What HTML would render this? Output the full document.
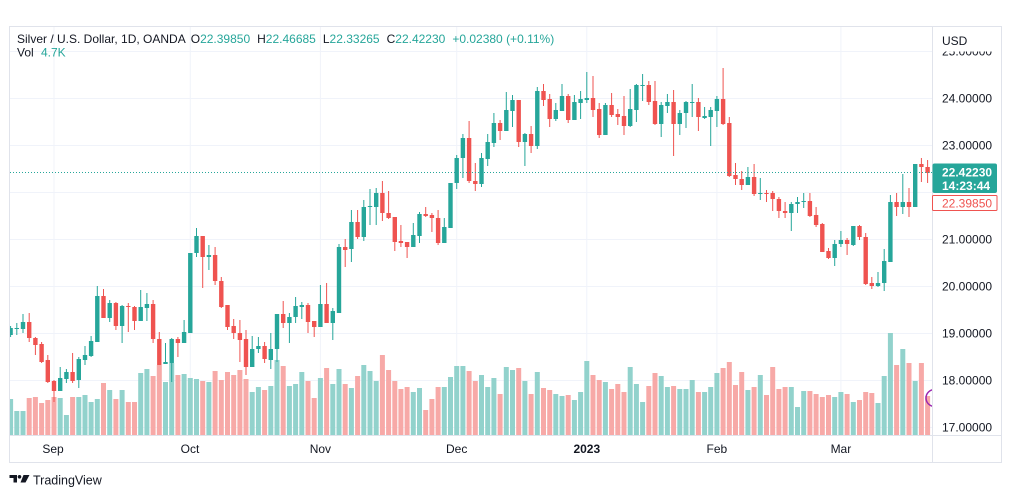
<!DOCTYPE html>
<html><head><meta charset="utf-8"><style>
html,body{margin:0;padding:0;background:#fff;}
body{width:1012px;height:498px;overflow:hidden;}
svg{display:block;font-family:"Liberation Sans",sans-serif;}
</style></head><body>
<svg width="1012" height="498" viewBox="0 0 1012 498" xmlns="http://www.w3.org/2000/svg">
<defs><clipPath id="pc"><rect x="10" y="27" width="922" height="408"/></clipPath></defs>
<rect x="0" y="0" width="1012" height="498" fill="#fff"/>
<g clip-path="url(#pc)">
<g stroke="#f0f3fa" stroke-width="1">
<line x1="10" y1="51.5" x2="932" y2="51.5"/><line x1="10" y1="98.5" x2="932" y2="98.5"/><line x1="10" y1="145.5" x2="932" y2="145.5"/><line x1="10" y1="192.5" x2="932" y2="192.5"/><line x1="10" y1="239.5" x2="932" y2="239.5"/><line x1="10" y1="286.5" x2="932" y2="286.5"/><line x1="10" y1="333.5" x2="932" y2="333.5"/><line x1="10" y1="380.5" x2="932" y2="380.5"/><line x1="10" y1="427.5" x2="932" y2="427.5"/>
<line x1="54" y1="27" x2="54" y2="435"/><line x1="190.3" y1="27" x2="190.3" y2="435"/><line x1="320.4" y1="27" x2="320.4" y2="435"/><line x1="456.7" y1="27" x2="456.7" y2="435"/><line x1="586.8" y1="27" x2="586.8" y2="435"/><line x1="716.9" y1="27" x2="716.9" y2="435"/><line x1="840.9" y1="27" x2="840.9" y2="435"/>
</g>
<g fill="#92d2cc">
<rect x="8.1" y="399" width="5" height="36"/><rect x="14.3" y="411" width="5" height="24"/><rect x="20.5" y="411" width="5" height="24"/><rect x="57.7" y="398" width="5" height="37"/><rect x="63.9" y="415" width="5" height="20"/><rect x="76.3" y="397" width="5" height="38"/><rect x="82.5" y="395" width="5" height="40"/><rect x="88.6" y="402" width="5" height="33"/><rect x="94.8" y="399" width="5" height="36"/><rect x="107.2" y="390" width="5" height="45"/><rect x="119.6" y="390" width="5" height="45"/><rect x="138.2" y="373" width="5" height="62"/><rect x="144.4" y="369" width="5" height="66"/><rect x="163" y="382" width="5" height="53"/><rect x="169.2" y="363" width="5" height="72"/><rect x="181.6" y="374" width="5" height="61"/><rect x="187.8" y="378" width="5" height="57"/><rect x="194" y="379" width="5" height="56"/><rect x="206.4" y="382" width="5" height="53"/><rect x="249.7" y="392" width="5" height="43"/><rect x="255.9" y="387" width="5" height="48"/><rect x="268.3" y="386" width="5" height="49"/><rect x="274.5" y="360" width="5" height="75"/><rect x="286.9" y="386" width="5" height="49"/><rect x="293.1" y="384" width="5" height="51"/><rect x="299.3" y="372" width="5" height="63"/><rect x="317.9" y="378" width="5" height="57"/><rect x="330.3" y="384" width="5" height="51"/><rect x="336.5" y="369" width="5" height="66"/><rect x="348.9" y="388" width="5" height="47"/><rect x="361.3" y="365" width="5" height="70"/><rect x="367.5" y="371" width="5" height="64"/><rect x="373.7" y="381" width="5" height="54"/><rect x="410.8" y="392" width="5" height="43"/><rect x="417" y="388" width="5" height="47"/><rect x="441.8" y="387" width="5" height="48"/><rect x="448" y="377" width="5" height="58"/><rect x="454.2" y="366" width="5" height="69"/><rect x="460.4" y="366" width="5" height="69"/><rect x="479" y="375" width="5" height="60"/><rect x="485.2" y="387" width="5" height="48"/><rect x="491.4" y="378" width="5" height="57"/><rect x="503.8" y="367" width="5" height="68"/><rect x="510" y="370" width="5" height="65"/><rect x="522.4" y="381" width="5" height="54"/><rect x="534.8" y="372" width="5" height="63"/><rect x="553.3" y="394" width="5" height="41"/><rect x="559.5" y="396" width="5" height="39"/><rect x="571.9" y="400" width="5" height="35"/><rect x="578.1" y="392" width="5" height="43"/><rect x="584.3" y="361" width="5" height="74"/><rect x="602.9" y="382" width="5" height="53"/><rect x="627.7" y="367" width="5" height="68"/><rect x="633.9" y="384" width="5" height="51"/><rect x="640.1" y="402" width="5" height="33"/><rect x="658.7" y="376" width="5" height="59"/><rect x="664.9" y="387" width="5" height="48"/><rect x="677.3" y="389" width="5" height="46"/><rect x="683.5" y="389" width="5" height="46"/><rect x="689.7" y="380" width="5" height="55"/><rect x="702.1" y="392" width="5" height="43"/><rect x="708.2" y="387" width="5" height="48"/><rect x="714.4" y="373" width="5" height="62"/><rect x="745.4" y="390" width="5" height="45"/><rect x="757.8" y="375" width="5" height="60"/><rect x="788.8" y="387" width="5" height="48"/><rect x="795" y="407" width="5" height="28"/><rect x="801.2" y="391" width="5" height="44"/><rect x="832.2" y="397" width="5" height="38"/><rect x="838.4" y="392" width="5" height="43"/><rect x="850.8" y="402" width="5" height="33"/><rect x="875.5" y="403" width="5" height="32"/><rect x="881.7" y="376" width="5" height="59"/><rect x="887.9" y="333" width="5" height="102"/><rect x="900.3" y="349" width="5" height="86"/><rect x="912.7" y="381" width="5" height="54"/>
</g>
<g fill="#f7a9a7">
<rect x="26.7" y="398" width="5" height="37"/><rect x="32.9" y="397" width="5" height="38"/><rect x="39.1" y="403" width="5" height="32"/><rect x="45.3" y="400" width="5" height="35"/><rect x="51.5" y="397" width="5" height="38"/><rect x="70.1" y="397" width="5" height="38"/><rect x="101" y="383" width="5" height="52"/><rect x="113.4" y="399" width="5" height="36"/><rect x="125.8" y="402" width="5" height="33"/><rect x="132" y="402" width="5" height="33"/><rect x="150.6" y="376" width="5" height="59"/><rect x="156.8" y="365" width="5" height="70"/><rect x="175.4" y="375" width="5" height="60"/><rect x="200.2" y="381" width="5" height="54"/><rect x="212.6" y="371" width="5" height="64"/><rect x="218.8" y="380" width="5" height="55"/><rect x="225" y="372" width="5" height="63"/><rect x="231.2" y="375" width="5" height="60"/><rect x="237.4" y="370" width="5" height="65"/><rect x="243.5" y="379" width="5" height="56"/><rect x="262.1" y="390" width="5" height="45"/><rect x="280.7" y="366" width="5" height="69"/><rect x="305.5" y="381" width="5" height="54"/><rect x="311.7" y="398" width="5" height="37"/><rect x="324.1" y="368" width="5" height="67"/><rect x="342.7" y="384" width="5" height="51"/><rect x="355.1" y="376" width="5" height="59"/><rect x="379.9" y="355" width="5" height="80"/><rect x="386.1" y="370" width="5" height="65"/><rect x="392.3" y="381" width="5" height="54"/><rect x="398.4" y="389" width="5" height="46"/><rect x="404.6" y="387" width="5" height="48"/><rect x="423.2" y="410" width="5" height="25"/><rect x="429.4" y="399" width="5" height="36"/><rect x="435.6" y="387" width="5" height="48"/><rect x="466.6" y="371" width="5" height="64"/><rect x="472.8" y="381" width="5" height="54"/><rect x="497.6" y="394" width="5" height="41"/><rect x="516.2" y="368" width="5" height="67"/><rect x="528.6" y="394" width="5" height="41"/><rect x="541" y="388" width="5" height="47"/><rect x="547.2" y="390" width="5" height="45"/><rect x="565.7" y="395" width="5" height="40"/><rect x="590.5" y="375" width="5" height="60"/><rect x="596.7" y="380" width="5" height="55"/><rect x="609.1" y="389" width="5" height="46"/><rect x="615.3" y="384" width="5" height="51"/><rect x="621.5" y="392" width="5" height="43"/><rect x="646.3" y="386" width="5" height="49"/><rect x="652.5" y="373" width="5" height="62"/><rect x="671.1" y="386" width="5" height="49"/><rect x="695.9" y="392" width="5" height="43"/><rect x="720.6" y="368" width="5" height="67"/><rect x="726.8" y="362" width="5" height="73"/><rect x="733" y="385" width="5" height="50"/><rect x="739.2" y="372" width="5" height="63"/><rect x="751.6" y="387" width="5" height="48"/><rect x="764" y="395" width="5" height="40"/><rect x="770.2" y="367" width="5" height="68"/><rect x="776.4" y="389" width="5" height="46"/><rect x="782.6" y="387" width="5" height="48"/><rect x="807.4" y="391" width="5" height="44"/><rect x="813.6" y="394" width="5" height="41"/><rect x="819.8" y="397" width="5" height="38"/><rect x="826" y="395" width="5" height="40"/><rect x="844.6" y="394" width="5" height="41"/><rect x="857" y="400" width="5" height="35"/><rect x="863.2" y="392" width="5" height="43"/><rect x="869.3" y="393" width="5" height="42"/><rect x="894.1" y="365" width="5" height="70"/><rect x="906.5" y="363" width="5" height="72"/><rect x="918.9" y="363" width="5" height="72"/><rect x="925.1" y="396" width="5" height="39"/>
</g>
<g fill="#26a69a">
<rect x="10.1" y="326" width="1" height="11"/><rect x="8.4" y="328" width="4.4" height="7"/>
<rect x="16.3" y="323" width="1" height="12"/><rect x="14.6" y="328" width="4.4" height="1"/>
<rect x="22.5" y="314" width="1" height="19"/><rect x="20.8" y="322" width="4.4" height="7"/>
<rect x="59.7" y="367" width="1" height="24"/><rect x="58" y="378" width="4.4" height="13"/>
<rect x="65.9" y="369" width="1" height="14"/><rect x="64.2" y="372" width="4.4" height="7"/>
<rect x="78.3" y="357" width="1" height="31"/><rect x="76.6" y="359" width="4.4" height="21"/>
<rect x="84.5" y="346" width="1" height="19"/><rect x="82.8" y="355" width="4.4" height="5"/>
<rect x="90.6" y="336" width="1" height="21"/><rect x="88.9" y="341" width="4.4" height="15"/>
<rect x="96.8" y="286" width="1" height="56"/><rect x="95.1" y="296" width="4.4" height="46"/>
<rect x="109.2" y="300" width="1" height="22"/><rect x="107.5" y="303" width="4.4" height="15"/>
<rect x="121.6" y="305" width="1" height="38"/><rect x="119.9" y="306" width="4.4" height="20"/>
<rect x="140.2" y="290" width="1" height="31"/><rect x="138.5" y="307" width="4.4" height="14"/>
<rect x="146.4" y="293" width="1" height="28"/><rect x="144.7" y="304" width="4.4" height="4"/>
<rect x="165" y="343" width="1" height="21"/><rect x="163.3" y="362" width="4.4" height="2"/>
<rect x="171.2" y="338" width="1" height="44"/><rect x="169.5" y="339" width="4.4" height="24"/>
<rect x="183.6" y="320" width="1" height="23"/><rect x="181.9" y="332" width="4.4" height="11"/>
<rect x="189.8" y="253" width="1" height="80"/><rect x="188.1" y="253" width="4.4" height="80"/>
<rect x="196" y="228" width="1" height="29"/><rect x="194.3" y="236" width="4.4" height="17"/>
<rect x="208.4" y="245" width="1" height="25"/><rect x="206.7" y="255" width="4.4" height="2"/>
<rect x="251.7" y="336" width="1" height="31"/><rect x="250" y="349" width="4.4" height="18"/>
<rect x="257.9" y="337" width="1" height="16"/><rect x="256.2" y="346" width="4.4" height="3"/>
<rect x="270.3" y="333" width="1" height="36"/><rect x="268.6" y="349" width="4.4" height="11"/>
<rect x="276.5" y="314" width="1" height="48"/><rect x="274.8" y="314" width="4.4" height="35"/>
<rect x="288.9" y="313" width="1" height="30"/><rect x="287.2" y="317" width="4.4" height="6"/>
<rect x="295.1" y="297" width="1" height="26"/><rect x="293.4" y="306" width="4.4" height="11"/>
<rect x="301.3" y="302" width="1" height="17"/><rect x="299.6" y="305" width="4.4" height="2"/>
<rect x="319.9" y="285" width="1" height="42"/><rect x="318.2" y="304" width="4.4" height="23"/>
<rect x="332.3" y="308" width="1" height="32"/><rect x="330.6" y="311" width="4.4" height="12"/>
<rect x="338.5" y="244" width="1" height="69"/><rect x="336.8" y="247" width="4.4" height="66"/>
<rect x="350.9" y="210" width="1" height="52"/><rect x="349.2" y="222" width="4.4" height="27"/>
<rect x="363.3" y="200" width="1" height="41"/><rect x="361.6" y="207" width="4.4" height="30"/>
<rect x="369.5" y="189" width="1" height="36"/><rect x="367.8" y="206" width="4.4" height="1"/>
<rect x="375.7" y="188" width="1" height="37"/><rect x="374" y="193" width="4.4" height="14"/>
<rect x="412.8" y="223" width="1" height="24"/><rect x="411.1" y="235" width="4.4" height="12"/>
<rect x="419" y="212" width="1" height="31"/><rect x="417.3" y="214" width="4.4" height="22"/>
<rect x="443.8" y="218" width="1" height="25"/><rect x="442.1" y="227" width="4.4" height="16"/>
<rect x="450" y="183" width="1" height="45"/><rect x="448.3" y="183" width="4.4" height="45"/>
<rect x="456.2" y="155" width="1" height="34"/><rect x="454.5" y="158" width="4.4" height="25"/>
<rect x="462.4" y="134" width="1" height="44"/><rect x="460.7" y="138" width="4.4" height="20"/>
<rect x="481" y="153" width="1" height="34"/><rect x="479.3" y="158" width="4.4" height="26"/>
<rect x="487.2" y="134" width="1" height="32"/><rect x="485.5" y="142" width="4.4" height="17"/>
<rect x="493.4" y="113" width="1" height="34"/><rect x="491.7" y="123" width="4.4" height="20"/>
<rect x="505.8" y="92" width="1" height="39"/><rect x="504.1" y="110" width="4.4" height="21"/>
<rect x="512" y="95" width="1" height="32"/><rect x="510.3" y="100" width="4.4" height="11"/>
<rect x="524.4" y="133" width="1" height="33"/><rect x="522.7" y="134" width="4.4" height="8"/>
<rect x="536.8" y="87" width="1" height="62"/><rect x="535.1" y="91" width="4.4" height="55"/>
<rect x="555.3" y="103" width="1" height="18"/><rect x="553.6" y="110" width="4.4" height="9"/>
<rect x="561.5" y="84" width="1" height="27"/><rect x="559.8" y="96" width="4.4" height="15"/>
<rect x="573.9" y="95" width="1" height="25"/><rect x="572.2" y="102" width="4.4" height="18"/>
<rect x="580.1" y="91" width="1" height="28"/><rect x="578.4" y="99" width="4.4" height="4"/>
<rect x="586.3" y="72" width="1" height="31"/><rect x="584.6" y="98" width="4.4" height="2"/>
<rect x="604.9" y="103" width="1" height="32"/><rect x="603.2" y="105" width="4.4" height="30"/>
<rect x="629.7" y="89" width="1" height="38"/><rect x="628" y="109" width="4.4" height="17"/>
<rect x="635.9" y="84" width="1" height="38"/><rect x="634.2" y="85" width="4.4" height="25"/>
<rect x="642.1" y="74" width="1" height="27"/><rect x="640.4" y="85" width="4.4" height="1"/>
<rect x="660.7" y="102" width="1" height="35"/><rect x="659" y="105" width="4.4" height="19"/>
<rect x="666.9" y="94" width="1" height="19"/><rect x="665.2" y="102" width="4.4" height="4"/>
<rect x="679.3" y="110" width="1" height="25"/><rect x="677.6" y="113" width="4.4" height="11"/>
<rect x="685.5" y="101" width="1" height="27"/><rect x="683.8" y="102" width="4.4" height="11"/>
<rect x="691.7" y="84" width="1" height="33"/><rect x="690" y="102" width="4.4" height="1"/>
<rect x="704.1" y="107" width="1" height="12"/><rect x="702.4" y="116" width="4.4" height="2"/>
<rect x="710.2" y="107" width="1" height="39"/><rect x="708.5" y="110" width="4.4" height="7"/>
<rect x="716.4" y="96" width="1" height="31"/><rect x="714.7" y="99" width="4.4" height="12"/>
<rect x="747.4" y="167" width="1" height="18"/><rect x="745.7" y="177" width="4.4" height="8"/>
<rect x="759.8" y="178" width="1" height="22"/><rect x="758.1" y="193" width="4.4" height="1"/>
<rect x="790.8" y="202" width="1" height="29"/><rect x="789.1" y="204" width="4.4" height="9"/>
<rect x="797" y="197" width="1" height="16"/><rect x="795.3" y="202" width="4.4" height="2"/>
<rect x="803.2" y="193" width="1" height="15"/><rect x="801.5" y="201" width="4.4" height="1"/>
<rect x="834.2" y="240" width="1" height="26"/><rect x="832.5" y="244" width="4.4" height="14"/>
<rect x="840.4" y="231" width="1" height="16"/><rect x="838.7" y="240" width="4.4" height="4"/>
<rect x="852.8" y="226" width="1" height="20"/><rect x="851.1" y="226" width="4.4" height="19"/>
<rect x="877.5" y="272" width="1" height="15"/><rect x="875.8" y="283" width="4.4" height="3"/>
<rect x="883.7" y="249" width="1" height="42"/><rect x="882" y="261" width="4.4" height="22"/>
<rect x="889.9" y="195" width="1" height="67"/><rect x="888.2" y="202" width="4.4" height="60"/>
<rect x="902.3" y="174" width="1" height="40"/><rect x="900.6" y="202" width="4.4" height="5"/>
<rect x="914.7" y="164" width="1" height="43"/><rect x="913" y="164" width="4.4" height="43"/>
</g>
<g fill="#ef5350">
<rect x="28.7" y="313" width="1" height="29"/><rect x="27" y="322" width="4.4" height="16"/>
<rect x="34.9" y="337" width="1" height="18"/><rect x="33.2" y="338" width="4.4" height="7"/>
<rect x="41.1" y="342" width="1" height="21"/><rect x="39.4" y="344" width="4.4" height="18"/>
<rect x="47.3" y="355" width="1" height="28"/><rect x="45.6" y="360" width="4.4" height="22"/>
<rect x="53.5" y="380" width="1" height="22"/><rect x="51.8" y="381" width="4.4" height="10"/>
<rect x="72.1" y="353" width="1" height="30"/><rect x="70.4" y="372" width="4.4" height="9"/>
<rect x="103" y="289" width="1" height="29"/><rect x="101.3" y="296" width="4.4" height="22"/>
<rect x="115.4" y="302" width="1" height="28"/><rect x="113.7" y="303" width="4.4" height="23"/>
<rect x="127.8" y="303" width="1" height="29"/><rect x="126.1" y="306" width="4.4" height="1"/>
<rect x="134" y="306" width="1" height="24"/><rect x="132.3" y="307" width="4.4" height="14"/>
<rect x="152.6" y="300" width="1" height="43"/><rect x="150.9" y="304" width="4.4" height="35"/>
<rect x="158.8" y="332" width="1" height="33"/><rect x="157.1" y="339" width="4.4" height="26"/>
<rect x="177.4" y="337" width="1" height="20"/><rect x="175.7" y="339" width="4.4" height="4"/>
<rect x="202.2" y="236" width="1" height="52"/><rect x="200.5" y="236" width="4.4" height="21"/>
<rect x="214.6" y="247" width="1" height="38"/><rect x="212.9" y="255" width="4.4" height="26"/>
<rect x="220.8" y="277" width="1" height="31"/><rect x="219.1" y="281" width="4.4" height="26"/>
<rect x="227" y="305" width="1" height="25"/><rect x="225.3" y="305" width="4.4" height="22"/>
<rect x="233.2" y="319" width="1" height="20"/><rect x="231.5" y="326" width="4.4" height="7"/>
<rect x="239.4" y="320" width="1" height="42"/><rect x="237.7" y="333" width="4.4" height="7"/>
<rect x="245.5" y="330" width="1" height="45"/><rect x="243.8" y="339" width="4.4" height="28"/>
<rect x="264.1" y="342" width="1" height="21"/><rect x="262.4" y="346" width="4.4" height="13"/>
<rect x="282.7" y="301" width="1" height="27"/><rect x="281" y="314" width="4.4" height="9"/>
<rect x="307.5" y="303" width="1" height="30"/><rect x="305.8" y="305" width="4.4" height="17"/>
<rect x="313.7" y="321" width="1" height="16"/><rect x="312" y="321" width="4.4" height="6"/>
<rect x="326.1" y="283" width="1" height="40"/><rect x="324.4" y="304" width="4.4" height="19"/>
<rect x="344.7" y="239" width="1" height="28"/><rect x="343" y="247" width="4.4" height="3"/>
<rect x="357.1" y="210" width="1" height="29"/><rect x="355.4" y="222" width="4.4" height="15"/>
<rect x="381.9" y="181" width="1" height="40"/><rect x="380.2" y="193" width="4.4" height="20"/>
<rect x="388.1" y="191" width="1" height="28"/><rect x="386.4" y="213" width="4.4" height="5"/>
<rect x="394.3" y="217" width="1" height="34"/><rect x="392.6" y="217" width="4.4" height="25"/>
<rect x="400.4" y="225" width="1" height="22"/><rect x="398.7" y="241" width="4.4" height="2"/>
<rect x="406.6" y="242" width="1" height="16"/><rect x="404.9" y="242" width="4.4" height="5"/>
<rect x="425.2" y="207" width="1" height="10"/><rect x="423.5" y="214" width="4.4" height="2"/>
<rect x="431.4" y="213" width="1" height="19"/><rect x="429.7" y="215" width="4.4" height="3"/>
<rect x="437.6" y="210" width="1" height="35"/><rect x="435.9" y="218" width="4.4" height="25"/>
<rect x="468.6" y="121" width="1" height="62"/><rect x="466.9" y="138" width="4.4" height="43"/>
<rect x="474.8" y="163" width="1" height="28"/><rect x="473.1" y="181" width="4.4" height="3"/>
<rect x="499.6" y="120" width="1" height="20"/><rect x="497.9" y="123" width="4.4" height="8"/>
<rect x="518.2" y="100" width="1" height="47"/><rect x="516.5" y="100" width="4.4" height="42"/>
<rect x="530.6" y="126" width="1" height="27"/><rect x="528.9" y="134" width="4.4" height="12"/>
<rect x="543" y="84" width="1" height="22"/><rect x="541.3" y="91" width="4.4" height="9"/>
<rect x="549.2" y="94" width="1" height="33"/><rect x="547.5" y="99" width="4.4" height="20"/>
<rect x="567.7" y="94" width="1" height="29"/><rect x="566" y="96" width="4.4" height="24"/>
<rect x="592.5" y="76" width="1" height="41"/><rect x="590.8" y="98" width="4.4" height="12"/>
<rect x="598.7" y="103" width="1" height="35"/><rect x="597" y="109" width="4.4" height="26"/>
<rect x="611.1" y="93" width="1" height="24"/><rect x="609.4" y="105" width="4.4" height="10"/>
<rect x="617.3" y="109" width="1" height="16"/><rect x="615.6" y="114" width="4.4" height="3"/>
<rect x="623.5" y="96" width="1" height="39"/><rect x="621.8" y="116" width="4.4" height="10"/>
<rect x="648.3" y="81" width="1" height="24"/><rect x="646.6" y="85" width="4.4" height="17"/>
<rect x="654.5" y="81" width="1" height="44"/><rect x="652.8" y="101" width="4.4" height="23"/>
<rect x="673.1" y="90" width="1" height="66"/><rect x="671.4" y="102" width="4.4" height="22"/>
<rect x="697.9" y="98" width="1" height="33"/><rect x="696.2" y="102" width="4.4" height="15"/>
<rect x="722.6" y="68" width="1" height="57"/><rect x="720.9" y="99" width="4.4" height="25"/>
<rect x="728.8" y="117" width="1" height="60"/><rect x="727.1" y="123" width="4.4" height="53"/>
<rect x="735" y="163" width="1" height="22"/><rect x="733.3" y="175" width="4.4" height="4"/>
<rect x="741.2" y="171" width="1" height="19"/><rect x="739.5" y="179" width="4.4" height="6"/>
<rect x="753.6" y="164" width="1" height="32"/><rect x="751.9" y="177" width="4.4" height="17"/>
<rect x="766" y="190" width="1" height="12"/><rect x="764.3" y="193" width="4.4" height="1"/>
<rect x="772.2" y="191" width="1" height="20"/><rect x="770.5" y="193" width="4.4" height="6"/>
<rect x="778.4" y="197" width="1" height="21"/><rect x="776.7" y="199" width="4.4" height="12"/>
<rect x="784.6" y="202" width="1" height="16"/><rect x="782.9" y="211" width="4.4" height="2"/>
<rect x="809.4" y="193" width="1" height="24"/><rect x="807.7" y="201" width="4.4" height="15"/>
<rect x="815.6" y="207" width="1" height="20"/><rect x="813.9" y="215" width="4.4" height="10"/>
<rect x="821.8" y="223" width="1" height="29"/><rect x="820.1" y="224" width="4.4" height="28"/>
<rect x="828" y="248" width="1" height="11"/><rect x="826.3" y="251" width="4.4" height="7"/>
<rect x="846.6" y="238" width="1" height="17"/><rect x="844.9" y="240" width="4.4" height="4"/>
<rect x="859" y="225" width="1" height="15"/><rect x="857.3" y="226" width="4.4" height="11"/>
<rect x="865.2" y="233" width="1" height="52"/><rect x="863.5" y="237" width="4.4" height="47"/>
<rect x="871.3" y="277" width="1" height="12"/><rect x="869.6" y="283" width="4.4" height="3"/>
<rect x="896.1" y="193" width="1" height="23"/><rect x="894.4" y="202" width="4.4" height="5"/>
<rect x="908.5" y="188" width="1" height="29"/><rect x="906.8" y="202" width="4.4" height="5"/>
<rect x="920.9" y="158" width="1" height="24"/><rect x="919.2" y="164" width="4.4" height="3"/>
<rect x="927.1" y="160" width="1" height="23"/><rect x="925.4" y="167" width="4.4" height="6"/>
</g>
<line x1="10" y1="172.5" x2="932" y2="172.5" stroke="#26a69a" stroke-width="1" stroke-dasharray="1 2"/>
<circle cx="934.5" cy="398" r="8.5" fill="none" stroke="#9c27b0" stroke-width="1.5"/>
</g>
<g stroke="#e0e3eb" stroke-width="1" fill="none">
<rect x="9.5" y="26.5" width="992" height="436"/>
<line x1="932.5" y1="26.5" x2="932.5" y2="462.5"/>
<line x1="9.5" y1="435.5" x2="1001.5" y2="435.5"/>
</g>
<g font-size="12" fill="#131722">
<text x="942" y="55.5">25.00000</text>
<rect x="933" y="27" width="68" height="24.5" fill="#fff"/>
<text x="942" y="45">USD</text>
<text x="942" y="102.5">24.00000</text>
<text x="942" y="149.5">23.00000</text>
<text x="942" y="243.5">21.00000</text>
<text x="942" y="290.5">20.00000</text>
<text x="942" y="337.5">19.00000</text>
<text x="942" y="384.5">18.00000</text>
<text x="942" y="431.5">17.00000</text>
</g>
<rect x="932.5" y="163.5" width="64.5" height="29.5" rx="2" fill="#26a69a"/>
<text x="942" y="176.5" font-size="12" font-weight="bold" fill="#fff">22.42230</text>
<text x="942" y="190" font-size="12" font-weight="bold" fill="#fff">14:23:44</text>
<rect x="932.5" y="195.5" width="64.5" height="15" rx="1" fill="#fff" stroke="#ef5350" stroke-width="1"/>
<text x="942" y="207.5" font-size="12" fill="#ef5350">22.39850</text>
<g font-size="12" fill="#131722" text-anchor="middle">
<text x="53" y="453">Sep</text>
<text x="190" y="453">Oct</text>
<text x="320.4" y="453">Nov</text>
<text x="456.7" y="453">Dec</text>
<text x="586.8" y="453" font-weight="bold">2023</text>
<text x="716.9" y="453">Feb</text>
<text x="840.9" y="453">Mar</text>
</g>
<text x="17" y="43" font-size="12" fill="#131722">Silver / U.S. Dollar, 1D, OANDA<tspan dx="5">O</tspan><tspan fill="#26a69a">22.39850</tspan><tspan dx="7">H</tspan><tspan fill="#26a69a">22.46685</tspan><tspan dx="7">L</tspan><tspan fill="#26a69a">22.33265</tspan><tspan dx="7">C</tspan><tspan fill="#26a69a">22.42230</tspan><tspan dx="7" fill="#26a69a">+0.02380 (+0.11%)</tspan></text>
<text x="17" y="56.5" font-size="12" fill="#131722">Vol</text>
<text x="41" y="56.5" font-size="12" fill="#26a69a">4.7K</text>
<g fill="#131722">
<rect x="9.5" y="475" width="7.5" height="3"/>
<rect x="13.5" y="475" width="3.5" height="7.5"/>
<circle cx="19.5" cy="476.8" r="1.8"/>
<polygon points="23.5,475 29.5,475 25.5,482.5 20.5,482.5"/>
</g>
<text x="33" y="484.5" font-size="12.5" fill="#131722">TradingView</text>
</svg>
</body></html>
